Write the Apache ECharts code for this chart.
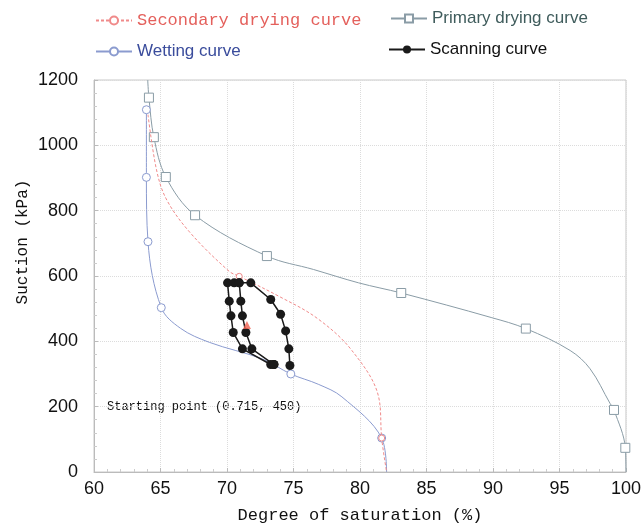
<!DOCTYPE html>
<html><head><meta charset="utf-8">
<script src="https://cdn.jsdelivr.net/npm/echarts@6/dist/echarts.min.js"></script>
<style>html,body{margin:0;padding:0;background:#fff}#c{width:644px;height:529px}</style>
</head><body><div id="c"></div>
<script>
// ---- data (degree of saturation %, suction kPa); m = marker shown ----
const xTicks = [60,65,70,75,80,85,90,95,100];
const yTicks = [0,200,400,600,800,1000,1200];

const secondaryX = [64.06,64.69,65.43,67.18,70.17,70.92,73.9,76.8,79.39,81.4,81.63,82.0];
const secondaryY = [1094,927,836,735,614,599,538,470,372,230,104,0];
const secondaryM = [0,0,0,0,0,1,0,0,0,0,1,0];

const primaryX = [64.04,64.13,64.5,65.4,67.6,73.0,76.5,79.9,83.1,89.86,92.47,95.8,97.3,98.8,99.1,99.95,100];
const primaryY = [1200,1146,1025,903,786,661,620,579,548,473,439,372,316,210,190,74,0];
const primaryM = [0,1,1,1,1,1,0,0,1,0,1,0,0,0,1,1,0];

const wettingX = [63.94,63.94,64.06,65.06,66.5,68.67,72.66,74.8,76.9,78.64,81.63,82.0];
const wettingY = [1109,902,705,503,440,397,346,300,268,230,104,0];
const wettingM = [1,1,1,1,0,0,0,1,0,0,1,0];

// scanning loop: outer path then inner path (null splits)
const scanX = [74.73,74.65,74.41,74.03,73.29,71.79,70.92,70.54,70.04,70.17,70.30,70.47,71.16,73.29,73.53, null, 73.53,71.87,71.42,71.16,71.04,70.92];
const scanY = [326,377,432,483,528,579,579,579,579,523,478,427,377,329,329, null, 329,377,427,478,523,579];

const startPoint = [71.5, 450];

function mk(xs, ys, ms){
  return xs.map((x,i)=> ms[i] ? {value:[x,ys[i]]} : {value:[x,ys[i]], symbol:'none'});
}
const scanData = scanX.map((x,i)=> x===null ? '-' : [x, scanY[i]]);

const chart = echarts.init(document.getElementById('c'));
const lbl = {fontFamily:'Liberation Sans', fontSize:18, color:'#111'};
const legBase = {orient:'horizontal', itemWidth:36, itemHeight:10, itemGap:4, selectedMode:false, padding:0};
chart.setOption({
  animation:false,
  backgroundColor:'#fff',
  grid:{left:94, right:15, top:80, bottom:53, show:true, borderColor:'#c8c8c8', borderWidth:1},
  legend:[
    Object.assign({}, legBase, {left:95, top:12, data:['Secondary drying curve'],
      textStyle:{fontFamily:'Liberation Mono', fontSize:17, color:'#e4605c'}}),
    Object.assign({}, legBase, {left:390, top:10, data:['Primary drying curve'],
      textStyle:{fontFamily:'Liberation Sans', fontSize:17, color:'#3f5c5c'}}),
    Object.assign({}, legBase, {left:95, top:43, data:['Wetting curve'],
      textStyle:{fontFamily:'Liberation Sans', fontSize:17, color:'#3a4c9c'}}),
    Object.assign({}, legBase, {left:388, top:41, data:['Scanning curve'],
      textStyle:{fontFamily:'Liberation Sans', fontSize:17, color:'#111'}})
  ],
  xAxis:{type:'value', min:60, max:100, interval:5,
    name:'Degree of saturation (%)', nameLocation:'middle', nameGap:35,
    nameTextStyle:{fontFamily:'Liberation Mono', fontSize:17, color:'#111'},
    axisLine:{lineStyle:{color:'#bbb'}},
    axisTick:{inside:true, length:4, lineStyle:{color:'#bbb'}},
    minorTick:{show:true, splitNumber:5, length:3, lineStyle:{color:'#ccc'}},
    axisLabel:{...lbl, margin:8, formatter:v=> xTicks.includes(v)? String(v):''},
    splitLine:{show:true, lineStyle:{color:'#dcdcdc', type:'dotted'}}},
  yAxis:{type:'value', min:0, max:1200, interval:200,
    axisLine:{show:true, lineStyle:{color:'#bbb'}},
    axisTick:{show:true, inside:true, length:4, lineStyle:{color:'#bbb'}},
    minorTick:{show:true, splitNumber:5, length:3, lineStyle:{color:'#ccc'}},
    axisLabel:{...lbl, margin:16, formatter:v=> yTicks.includes(v)? String(v):''},
    splitLine:{show:true, lineStyle:{color:'#dcdcdc', type:'dotted'}}},
  series:[
    {name:'Secondary drying curve', type:'line', smooth:0.35, data:mk(secondaryX,secondaryY,secondaryM),
      symbol:'circle', symbolSize:6, itemStyle:{color:'#fff', borderColor:'#f08a8a', borderWidth:1},
      lineStyle:{color:'#f08a8a', width:1, type:[3,2]}, z:3},
    {name:'Primary drying curve', type:'line', smooth:0.35, data:mk(primaryX,primaryY,primaryM),
      symbol:'rect', symbolSize:9, itemStyle:{color:'#fff', borderColor:'#8a9ca6', borderWidth:1},
      lineStyle:{color:'#8a9ca6', width:1}, z:2},
    {name:'Wetting curve', type:'line', smooth:0.35, data:mk(wettingX,wettingY,wettingM),
      symbol:'circle', symbolSize:8, itemStyle:{color:'#fff', borderColor:'#8b9bcf', borderWidth:1},
      lineStyle:{color:'#8b9bcf', width:1}, z:2},
    {name:'Scanning curve', type:'line', data:scanData, connectNulls:false,
      symbol:'circle', symbolSize:9, itemStyle:{color:'#1a1a1a'},
      lineStyle:{color:'#1a1a1a', width:1.5}, z:4},
    {name:'start', type:'scatter', data:[startPoint], symbol:'triangle', symbolSize:8,
      itemStyle:{color:'#f06050'}, z:5}
  ],
  graphic:[
    {type:'text', left:107, top:401, style:{text:'Starting point (0.715, 450)',
      font:'12px "Liberation Mono"', fill:'#111'}},
    {type:'text', x:23, y:242, rotation:Math.PI/2, style:{text:'Suction (kPa)',
      font:'16px "Liberation Mono"', fill:'#111', textAlign:'center', textVerticalAlign:'middle'}}
  ]
});
</script></body></html>
